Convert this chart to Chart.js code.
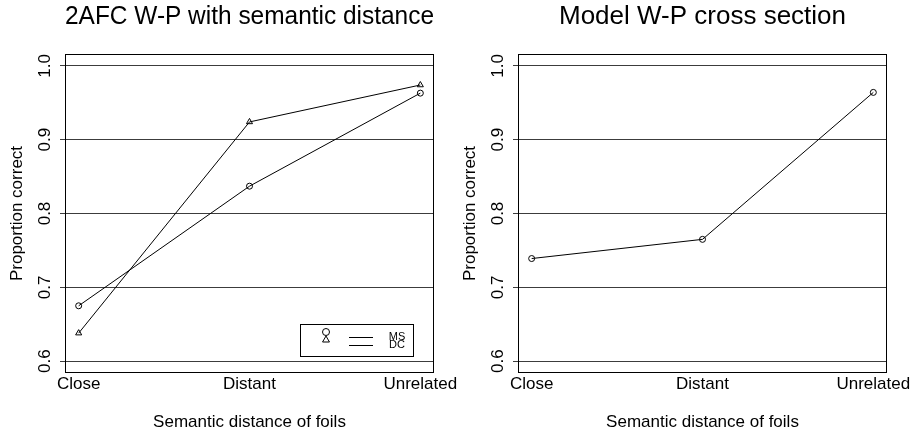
<!DOCTYPE html>
<html>
<head>
<meta charset="utf-8">
<script src="https://cdn.jsdelivr.net/npm/chart.js@4.4.1/dist/chart.umd.min.js"></script>
<style>
  html, body { margin: 0; padding: 0; background: #fff; overflow: hidden; }
  #wrap { position: relative; width: 915px; height: 435px; }
  canvas { position: absolute; top: 0; }
  #left { left: 0; }
  #right { left: 453px; }
</style>
</head>
<body>
<div id="wrap">
  <canvas id="left" width="470" height="435"></canvas>
  <canvas id="right" width="462" height="435"></canvas>
</div>
<script>
const categories = ['Close', 'Distant', 'Unrelated'];
const msValues = [0.675, 0.837, 0.963];
const dcValues = [0.638, 0.924, 0.974];
const modelValues = [0.739, 0.765, 0.964];
const yTicks = [0.6, 0.7, 0.8, 0.9, 1.0];
const FONT = "'Liberation Sans', Arial, Helvetica, sans-serif";

const toPoints = vals => vals.map((v, i) => ({ x: i, y: v }));

// box round the plot area + R-style rotated y tick labels
const framePlugin = {
    id: 'frame',
    afterDraw(chart) {
        const { ctx, chartArea: a, scales: { y } } = chart;
        ctx.save();
        ctx.strokeStyle = '#000';
        ctx.lineWidth = 1;
        ctx.strokeRect(a.left + 0.5, a.top + 0.5, a.right - a.left - 1, a.bottom - a.top - 1);
        ctx.fillStyle = '#000';
        ctx.font = '17px ' + FONT;
        ctx.textAlign = 'center';
        ctx.textBaseline = 'alphabetic';
        y.ticks.forEach(t => {
            ctx.save();
            ctx.translate(50, y.getPixelForValue(t.value));
            ctx.rotate(-Math.PI / 2);
            ctx.fillText(t.value.toFixed(1), 0, 0);
            ctx.restore();
        });
        ctx.restore();
    }
};

// legend box in the bottom right corner (symbols, lines, names)
const boxLegendPlugin = {
    id: 'boxLegend',
    afterDraw(chart) {
        const { ctx, chartArea: a } = chart;
        const ds = chart.data.datasets;
        const w = 113, h = 32;
        const x0 = a.right - 21 - w, y0 = a.bottom - 17 - h;
        ctx.save();
        ctx.strokeStyle = '#000';
        ctx.lineWidth = 1;
        ctx.strokeRect(x0 + 0.5, y0 + 0.5, w, h);
        ds.forEach((d, i) => {
            const sy = y0 + 8 + i * 8;
            const ly = y0 + 13 + i * 8;
            const ty = y0 + 12.5 + i * 8.5;
            const sx = x0 + 26;
            ctx.beginPath();
            if (d.pointStyle === 'triangle') {
                const r = 4;
                ctx.moveTo(sx, sy - r);
                ctx.lineTo(sx + r * 0.866, sy + r * 0.5);
                ctx.lineTo(sx - r * 0.866, sy + r * 0.5);
                ctx.closePath();
            } else {
                ctx.arc(sx, sy, 3.5, 0, Math.PI * 2);
            }
            ctx.stroke();
            ctx.beginPath();
            ctx.moveTo(x0 + 49, ly + 0.5);
            ctx.lineTo(x0 + 73, ly + 0.5);
            ctx.stroke();
            ctx.fillStyle = '#000';
            ctx.font = '11px ' + FONT;
            ctx.textAlign = 'center';
            ctx.textBaseline = 'middle';
            ctx.fillText(d.label, x0 + 97, ty);
        });
        ctx.restore();
    }
};

function lineSet(label, values, style, radius) {
    return {
        label, data: toPoints(values),
        borderColor: '#000', borderWidth: 1, tension: 0, fill: false,
        pointStyle: style, pointRadius: radius, pointBorderWidth: 1,
        pointBorderColor: '#000', pointBackgroundColor: 'rgba(0,0,0,0)'
    };
}

function makeChart(id, title, datasets, padRight, extra) {
    const axisFont = { family: FONT, size: 17 };
    return new Chart(document.getElementById(id), {
        type: 'line',
        data: { datasets },
        options: {
            responsive: false,
            animation: false,
            layout: { padding: { left: 0, right: padRight, top: 0, bottom: 0 } },
            plugins: {
                legend: { display: false },
                tooltip: { enabled: false },
                title: {
                    display: true, text: title, fullSize: false, color: '#000',
                    font: { family: FONT, size: 26, weight: 'normal', lineHeight: 1 },
                    padding: { top: 4, bottom: 24 }
                }
            },
            scales: {
                x: {
                    type: 'linear', min: -0.08, max: 2.08,
                    afterBuildTicks: s => { s.ticks = categories.map((c, i) => ({ value: i })); },
                    afterFit: s => { s.height = 62; },
                    grid: { display: false, drawTicks: false },
                    border: { display: false },
                    ticks: { color: '#000', font: axisFont, padding: 1, maxRotation: 0, autoSkip: false, callback: v => categories[v] },
                    title: { display: true, text: 'Semantic distance of foils', color: '#000', font: axisFont, padding: { top: 0, bottom: 2 } }
                },
                y: {
                    min: 0.584, max: 1.016,
                    afterBuildTicks: s => { s.ticks = yTicks.map(v => ({ value: v })); },
                    afterFit: s => { s.width = 65; },
                    grid: { color: '#3c3c3c', lineWidth: 1, drawTicks: true, tickLength: 5, tickColor: '#3c3c3c' },
                    border: { display: false },
                    ticks: { display: false },
                    title: { display: true, text: 'Proportion correct', color: '#000', font: axisFont, padding: { top: 7, bottom: 0 } }
                }
            }
        },
        plugins: [framePlugin].concat(extra || [])
    });
}

makeChart('left', '2AFC W-P with semantic distance', [
    lineSet('MS', msValues, 'circle', 3),
    lineSet('DC', dcValues, 'triangle', 3.5)
], 36, [boxLegendPlugin]);

makeChart('right', 'Model W-P cross section', [
    lineSet('MS', modelValues, 'circle', 3)
], 28);
</script>
</body>
</html>
